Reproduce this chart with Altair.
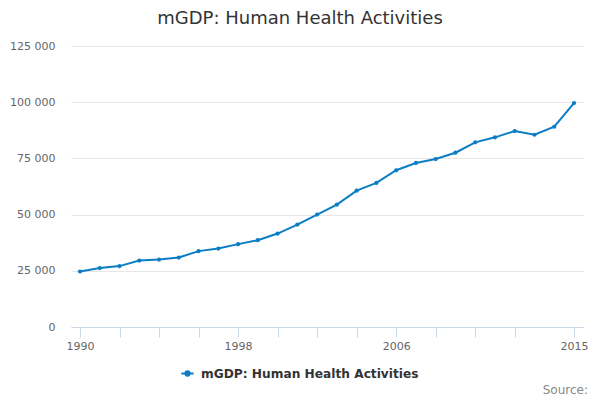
import altair as alt
import pandas as pd

years = list(range(1990, 2016))
values = [24690, 26200, 27090, 29570, 30020, 30910, 33750, 34900, 36860, 38630,
          41560, 45560, 50000, 54440, 60660, 64080, 69720, 72960, 74730, 77530,
          82150, 84370, 87170, 85520, 89080, 99600]
series_name = "mGDP: Human Health Activities"
title_text = "mGDP: Human Health Activities"
source_text = "Source:"
x_ticks = list(range(1990, 2013, 2)) + [2015]
x_labels = [1990, 1998, 2006, 2015]
y_ticks = [0, 25000, 50000, 75000, 100000, 125000]

df = pd.DataFrame({"year": years, "value": values, "series": series_name})

COLOR = "#0b7dc5"
FONT = "DejaVu Sans"

label_test = " || ".join(f"datum.value == {v}" for v in x_labels)

x_enc = alt.X(
    "year:Q",
    scale=alt.Scale(domain=[1989.545, 2015.455], nice=False, zero=False),
    axis=alt.Axis(
        title=None, grid=False, values=x_ticks,
        labelExpr=f"({label_test}) ? datum.label : ''",
        format="d", domainColor="#ccd6eb", tickColor="#ccd6eb", tickSize=10,
        labelPadding=3, labelColor="#666666", labelFontSize=11, labelFont=FONT,
        labelOverlap=False, labelFlush=False,
    ),
)
y_enc = alt.Y(
    "value:Q",
    scale=alt.Scale(domain=[0, 125000], nice=False),
    axis=alt.Axis(
        title=None, values=y_ticks, domain=False, ticks=False,
        gridColor="#e6e6e6", labelPadding=16, labelColor="#666666",
        labelFontSize=11, labelFont=FONT,
        labelExpr="datum.value == 0 ? '0' : format(datum.value / 1000, 'd') + ' 000'",
    ),
)

legend = alt.Legend(
    title=None, orient="none", legendX=109, legendY=320,
    symbolType="M-1,0L1,0M-0.35,0a0.35,0.35 0 1,0 0.7,0a0.35,0.35 0 1,0 -0.7,0",
    symbolSize=150, symbolStrokeWidth=2, symbolFillColor=COLOR, symbolStrokeColor=COLOR,
    labelFont=FONT, labelFontSize=12.2, labelFontWeight="bold", labelColor="#333333",
    labelOffset=6, labelLimit=400,
)

line = alt.Chart(df).mark_line(
    strokeWidth=2, point=alt.OverlayMarkDef(filled=True, size=18, color=COLOR)
).encode(
    x=x_enc, y=y_enc,
    color=alt.Color("series:N", scale=alt.Scale(range=[COLOR]), legend=legend),
)

src = alt.Chart(pd.DataFrame({"t": [source_text]})).mark_text(
    align="right", baseline="middle", font=FONT, fontSize=12, color="#888888"
).encode(text="t:N", x=alt.value(517), y=alt.value(344))

chart = alt.layer(line, src).properties(
    width=512, height=281,
    title=alt.TitleParams(title_text, anchor="middle", dx=-27, offset=12,
                          font=FONT, fontSize=18, fontWeight="normal", color="#333333"),
    autosize=alt.AutoSizeParams(type="none"),
    padding={"left": 63, "top": 38, "right": 9, "bottom": 73},
).configure_view(stroke=None)

chart.save("out.html", embed_options={"renderer": "svg", "actions": False})
